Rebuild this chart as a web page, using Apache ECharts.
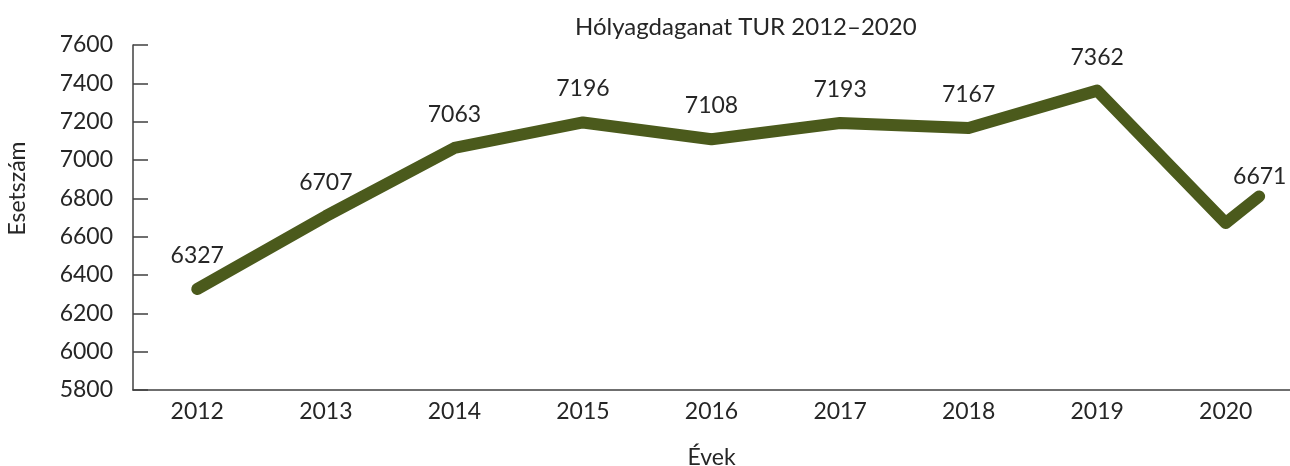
<!DOCTYPE html>
<html>
<head>
<meta charset="utf-8">
<script src="https://cdn.jsdelivr.net/npm/echarts@6/dist/echarts.min.js"></script>
<style>
  html, body { margin: 0; padding: 0; background: #fff; }
  #chart { width: 1290px; height: 466px; }
</style>
</head>
<body>
<div id="chart"></div>
<script>
// Years on the x axis and case counts (Esetszám)
const years = [2012, 2013, 2014, 2015, 2016, 2017, 2018, 2019, 2020]
const cases = [6327, 6707, 7063, 7196, 7108, 7193, 7167, 7362, 6671]
// the line in the source runs a short way past 2020 to an unlabelled point
const tailX = [2020.26]
const tailY = [6810]

const textColor = '#262626'
const lineColor = '#4b5a1c'
const font = 'Lato, "Open Sans", sans-serif'

const points = years.map((y, i) => ({ value: [y, cases[i]] }))
tailX.forEach((x, i) => points.push({ value: [x, tailY[i]], label: { show: false } }))

const chart = echarts.init(document.getElementById('chart'))

chart.setOption({
  backgroundColor: '#ffffff',
  animation: false,
  textStyle: { fontFamily: font },
  title: {
    text: 'Hólyagdaganat TUR 2012–2020',
    left: 570,
    top: 10,
    textStyle: { fontSize: 24, fontWeight: 'normal', color: textColor, fontFamily: font },
  },
  grid: { left: 133, right: 0, top: 45, bottom: 76, outerBoundsMode: 'none', containLabel: false },
  xAxis: {
    type: 'value',
    min: 2011.5,
    max: 2020.5,
    interval: 0.5,
    name: 'Évek',
    nameLocation: 'middle',
    nameGap: 56,
    nameTextStyle: { fontSize: 23, color: textColor },
    axisLine: { show: true, lineStyle: { color: '#404040', width: 1.5 } },
    axisTick: { show: false },
    splitLine: { show: false },
    axisLabel: {
      fontSize: 23,
      color: textColor,
      margin: 10,
      formatter: v => (Number.isInteger(v) ? String(v) : ''),
    },
  },
  yAxis: {
    type: 'value',
    min: 5800,
    max: 7600,
    interval: 200,
    name: 'Esetszám',
    nameLocation: 'middle',
    nameGap: 104,
    nameTextStyle: { fontSize: 23, color: textColor, padding: [0, 0, 0, 58] },
    axisLine: { show: true, lineStyle: { color: '#404040', width: 1.5 } },
    axisTick: { show: true, inside: true, length: 15, lineStyle: { color: '#404040', width: 1.5 } },
    splitLine: { show: false },
    axisLabel: { fontSize: 23, color: textColor, margin: 20, formatter: v => String(v) },
  },
  series: [
    {
      type: 'line',
      data: points,
      symbol: 'circle',
      symbolSize: 4,
      showSymbol: true,
      itemStyle: { color: lineColor },
      lineStyle: { width: 12, color: lineColor, cap: 'round', join: 'round' },
      label: {
        show: true,
        position: 'top',
        distance: 20,
        fontSize: 23,
        color: textColor,
        formatter: p => String(p.value[1]),
      },
      // the 2020 label sits up and to the right of its point
      labelLayout: p => (p.dataIndex === years.length - 1 ? { dx: 34, dy: -13, hideOverlap: false } : { hideOverlap: false }),
    },
  ],
})
</script>
</body>
</html>
